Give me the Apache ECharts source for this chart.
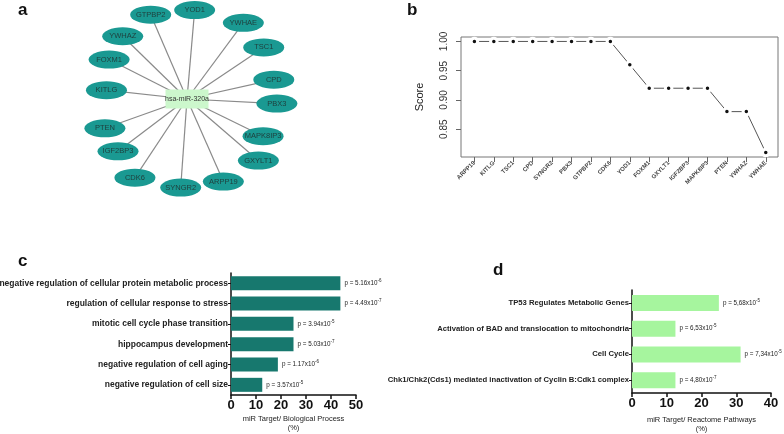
<!DOCTYPE html>
<html><head><meta charset="utf-8">
<script src="https://cdn.jsdelivr.net/npm/echarts@6/dist/echarts.min.js"></script>
<style>html,body{margin:0;padding:0;background:#fff}#c{width:784px;height:434px}</style>
</head><body><div id="c"></div>
<script>
// ---- Panel a: network ----
const hubName = 'hsa-miR-320a';
const targetGenes = ['PBX3','CPD','TSC1','YWHAE','YOD1','GTPBP2','YWHAZ','FOXM1','KITLG','PTEN','IGF2BP3','CDK6','SYNGR2','ARPP19','GXYLT1','MAPK8IP3'];
const targetAngles = [357, 13, 35, 55, 87, 115, 137, 154, 174, 199, 216, 235, 264, 292, 318, 333];
const targetRadii = [87, 86, 90, 93, 89, 93, 92, 90, 84, 90, 89, 96, 89, 89, 92, 82];

// ---- Panel b: score line ----
const scoreGenes = ['ARPP19','KITLG','TSC1','CPD','SYNGR2','PBX3','GTPBP2','CDK6','YOD1','FOXM1','GXYLT1','IGF2BP3','MAPK8IP3','PTEN','YWHAZ','YWHAE'];
const scores = [1.00,1.00,1.00,1.00,1.00,1.00,1.00,1.00,0.96,0.92,0.92,0.92,0.92,0.88,0.88,0.81];
const scoreTicks = [0.85, 0.90, 0.95, 1.00];

// ---- Panel c: biological process ----
const bpTerms = ['negative regulation of cellular protein metabolic process','regulation of cellular response to stress','mitotic cell cycle phase transition','hippocampus development','negative regulation of cell aging','negative regulation of cell size'];
const bpPercent = [43.75, 43.75, 25, 25, 18.75, 12.5];
const bpPMant = ['5.16','4.49','3.94','5.03','1.17','3.57'];
const bpPExp = ['-6','-7','-5','-7','-6','-5'];

// ---- Panel d: reactome ----
const rpTerms = ['TP53 Regulates Metabolic Genes','Activation of BAD and translocation to mitochondria','Cell Cycle','Chk1/Chk2(Cds1) mediated inactivation of Cyclin B:Cdk1 complex'];
const rpPercent = [25, 12.5, 31.25, 12.5];
const rpPMant = ['5,68','6,53','7,34','4,80'];
const rpPExp = ['-5','-5','-5','-7'];

const FONT = '"Liberation Sans", Arial, sans-serif';
const chart = echarts.init(document.getElementById('c'), null, {renderer: 'canvas'});

const nodes = [{name: hubName, value: [3, 180], symbol: 'rect', symbolSize: [43, 19],
  itemStyle: {color: '#ccf7cc'}, label: {fontSize: 7, color: '#333'}}];
targetGenes.forEach((g, i) => nodes.push({name: g, value: [targetRadii[i], targetAngles[i]]}));
const links = targetGenes.map(g => ({source: hubName, target: g}));

const pRich = {
  n: {fontSize: 6.3, color: '#222', fontFamily: FONT, lineHeight: 10},
  s: {fontSize: 4.5, color: '#222', fontFamily: FONT, verticalAlign: 'top', lineHeight: 10, padding: [0,0,4,0]}
};
function catAxis(fs) {
  return {
    type: 'category', inverse: true,
    axisLine: {lineStyle: {color: '#111', width: 1.5}},
    axisTick: {show: true, length: 3, alignWithLabel: true, lineStyle: {color: '#111', width: 1}},
    axisLabel: {fontSize: fs, fontWeight: 'bold', color: '#222', fontFamily: FONT, margin: 3}
  };
}
function valAxis(gap) {
  return {
    type: 'value', min: 0, interval: 10,
    axisLine: {show: true, lineStyle: {color: '#111', width: 1.5}},
    axisTick: {show: true, length: 4, lineStyle: {color: '#111', width: 1.5}},
    axisLabel: {fontSize: 13, fontWeight: 'bold', color: '#111', fontFamily: FONT, margin: 4},
    splitLine: {show: false},
    nameLocation: 'middle', nameGap: gap,
    nameTextStyle: {fontSize: 7.5, color: '#222', fontFamily: FONT, lineHeight: 9}
  };
}

chart.setOption({
  animation: false,
  textStyle: {fontFamily: FONT},
  title: [
    {text: 'a', left: 13, top: -3, textStyle: {fontSize: 17, fontWeight: 'bold', color: '#111'}},
    {text: 'b', left: 402, top: -3, textStyle: {fontSize: 17, fontWeight: 'bold', color: '#111'}},
    {text: 'c', left: 13, top: 248, textStyle: {fontSize: 17, fontWeight: 'bold', color: '#111'}},
    {text: 'd', left: 488, top: 257, textStyle: {fontSize: 17, fontWeight: 'bold', color: '#111'}}
  ],
  polar: {center: [190, 99], radius: 100},
  angleAxis: {type: 'value', min: 0, max: 360, startAngle: 0, clockwise: false, show: false},
  radiusAxis: {type: 'value', min: 0, max: 100, show: false},
  grid: [
    {left: 461, top: 37, width: 317, height: 120, show: true, borderColor: '#777', borderWidth: 1, outerBoundsMode: 'none', containLabel: false},
    {left: 231, top: 273, width: 125, height: 122, outerBoundsMode: 'none', containLabel: false},
    {left: 632, top: 290, width: 139, height: 103, outerBoundsMode: 'none', containLabel: false}
  ],
  xAxis: [
    {gridIndex: 0, type: 'value', min: -0.69, max: 15.63,
      axisLine: {show: false, onZero: false}, splitLine: {show: false},
      axisTick: {show: true, length: 5, customValues: scoreGenes.map((g, i) => i), lineStyle: {color: '#666'}},
      axisLabel: {customValues: scoreGenes.map((g, i) => i), formatter: v => scoreGenes[Math.round(v)],
        rotate: 45, fontSize: 6, fontWeight: 'bold', color: '#444', margin: 5}},
    Object.assign({gridIndex: 1, max: 50, name: 'miR Target/ Biological Process\n(%)'}, valAxis(19)),
    Object.assign({gridIndex: 2, max: 40, name: 'miR Target/ Reactome Pathways\n(%)'}, valAxis(22))
  ],
  yAxis: [
    {gridIndex: 0, type: 'value', min: 0.8024, max: 1.0076,
      name: 'Score', nameLocation: 'middle', nameGap: 36, nameRotate: 90,
      nameTextStyle: {fontSize: 11, color: '#222'},
      axisLine: {show: false, onZero: false}, splitLine: {show: false},
      axisTick: {show: true, length: 5, customValues: scoreTicks, lineStyle: {color: '#666'}},
      axisLabel: {customValues: scoreTicks, formatter: v => v.toFixed(2), rotate: 90,
        fontSize: 10, color: '#333', margin: 12}},
    Object.assign({gridIndex: 1, data: bpTerms}, catAxis(8.5)),
    Object.assign({gridIndex: 2, data: rpTerms}, catAxis(7.7))
  ],
  series: [
    {type: 'graph', coordinateSystem: 'polar', layout: 'none',
      symbol: 'circle', symbolSize: [41, 18],
      itemStyle: {color: '#1a9992'},
      label: {show: true, position: 'inside', fontSize: 7.5, color: '#1f3e3c'},
      lineStyle: {color: '#8a8a8a', width: 1.2, opacity: 1, curveness: 0},
      edgeSymbol: ['none', 'none'],
      data: nodes, links: links, z: 2},
    {type: 'line', xAxisIndex: 0, yAxisIndex: 0,
      data: scores.map((s, i) => [i, s]),
      symbol: 'circle', symbolSize: 6.5, showAllSymbol: true,
      itemStyle: {color: '#111', borderColor: '#fff', borderWidth: 3},
      lineStyle: {color: '#555', width: 1}},
    {type: 'bar', xAxisIndex: 1, yAxisIndex: 1, data: bpPercent, barWidth: 14,
      itemStyle: {color: '#17786e'},
      label: {show: true, position: 'right', distance: 4, rich: pRich,
        formatter: p => '{n|p = ' + bpPMant[p.dataIndex] + 'x10}{s|' + bpPExp[p.dataIndex] + '}'}},
    {type: 'bar', xAxisIndex: 2, yAxisIndex: 2, data: rpPercent, barWidth: 16,
      itemStyle: {color: '#a6f59e'},
      label: {show: true, position: 'right', distance: 4, rich: pRich,
        formatter: p => '{n|p = ' + rpPMant[p.dataIndex] + 'x10}{s|' + rpPExp[p.dataIndex] + '}'}}
  ]
});
</script></body></html>
